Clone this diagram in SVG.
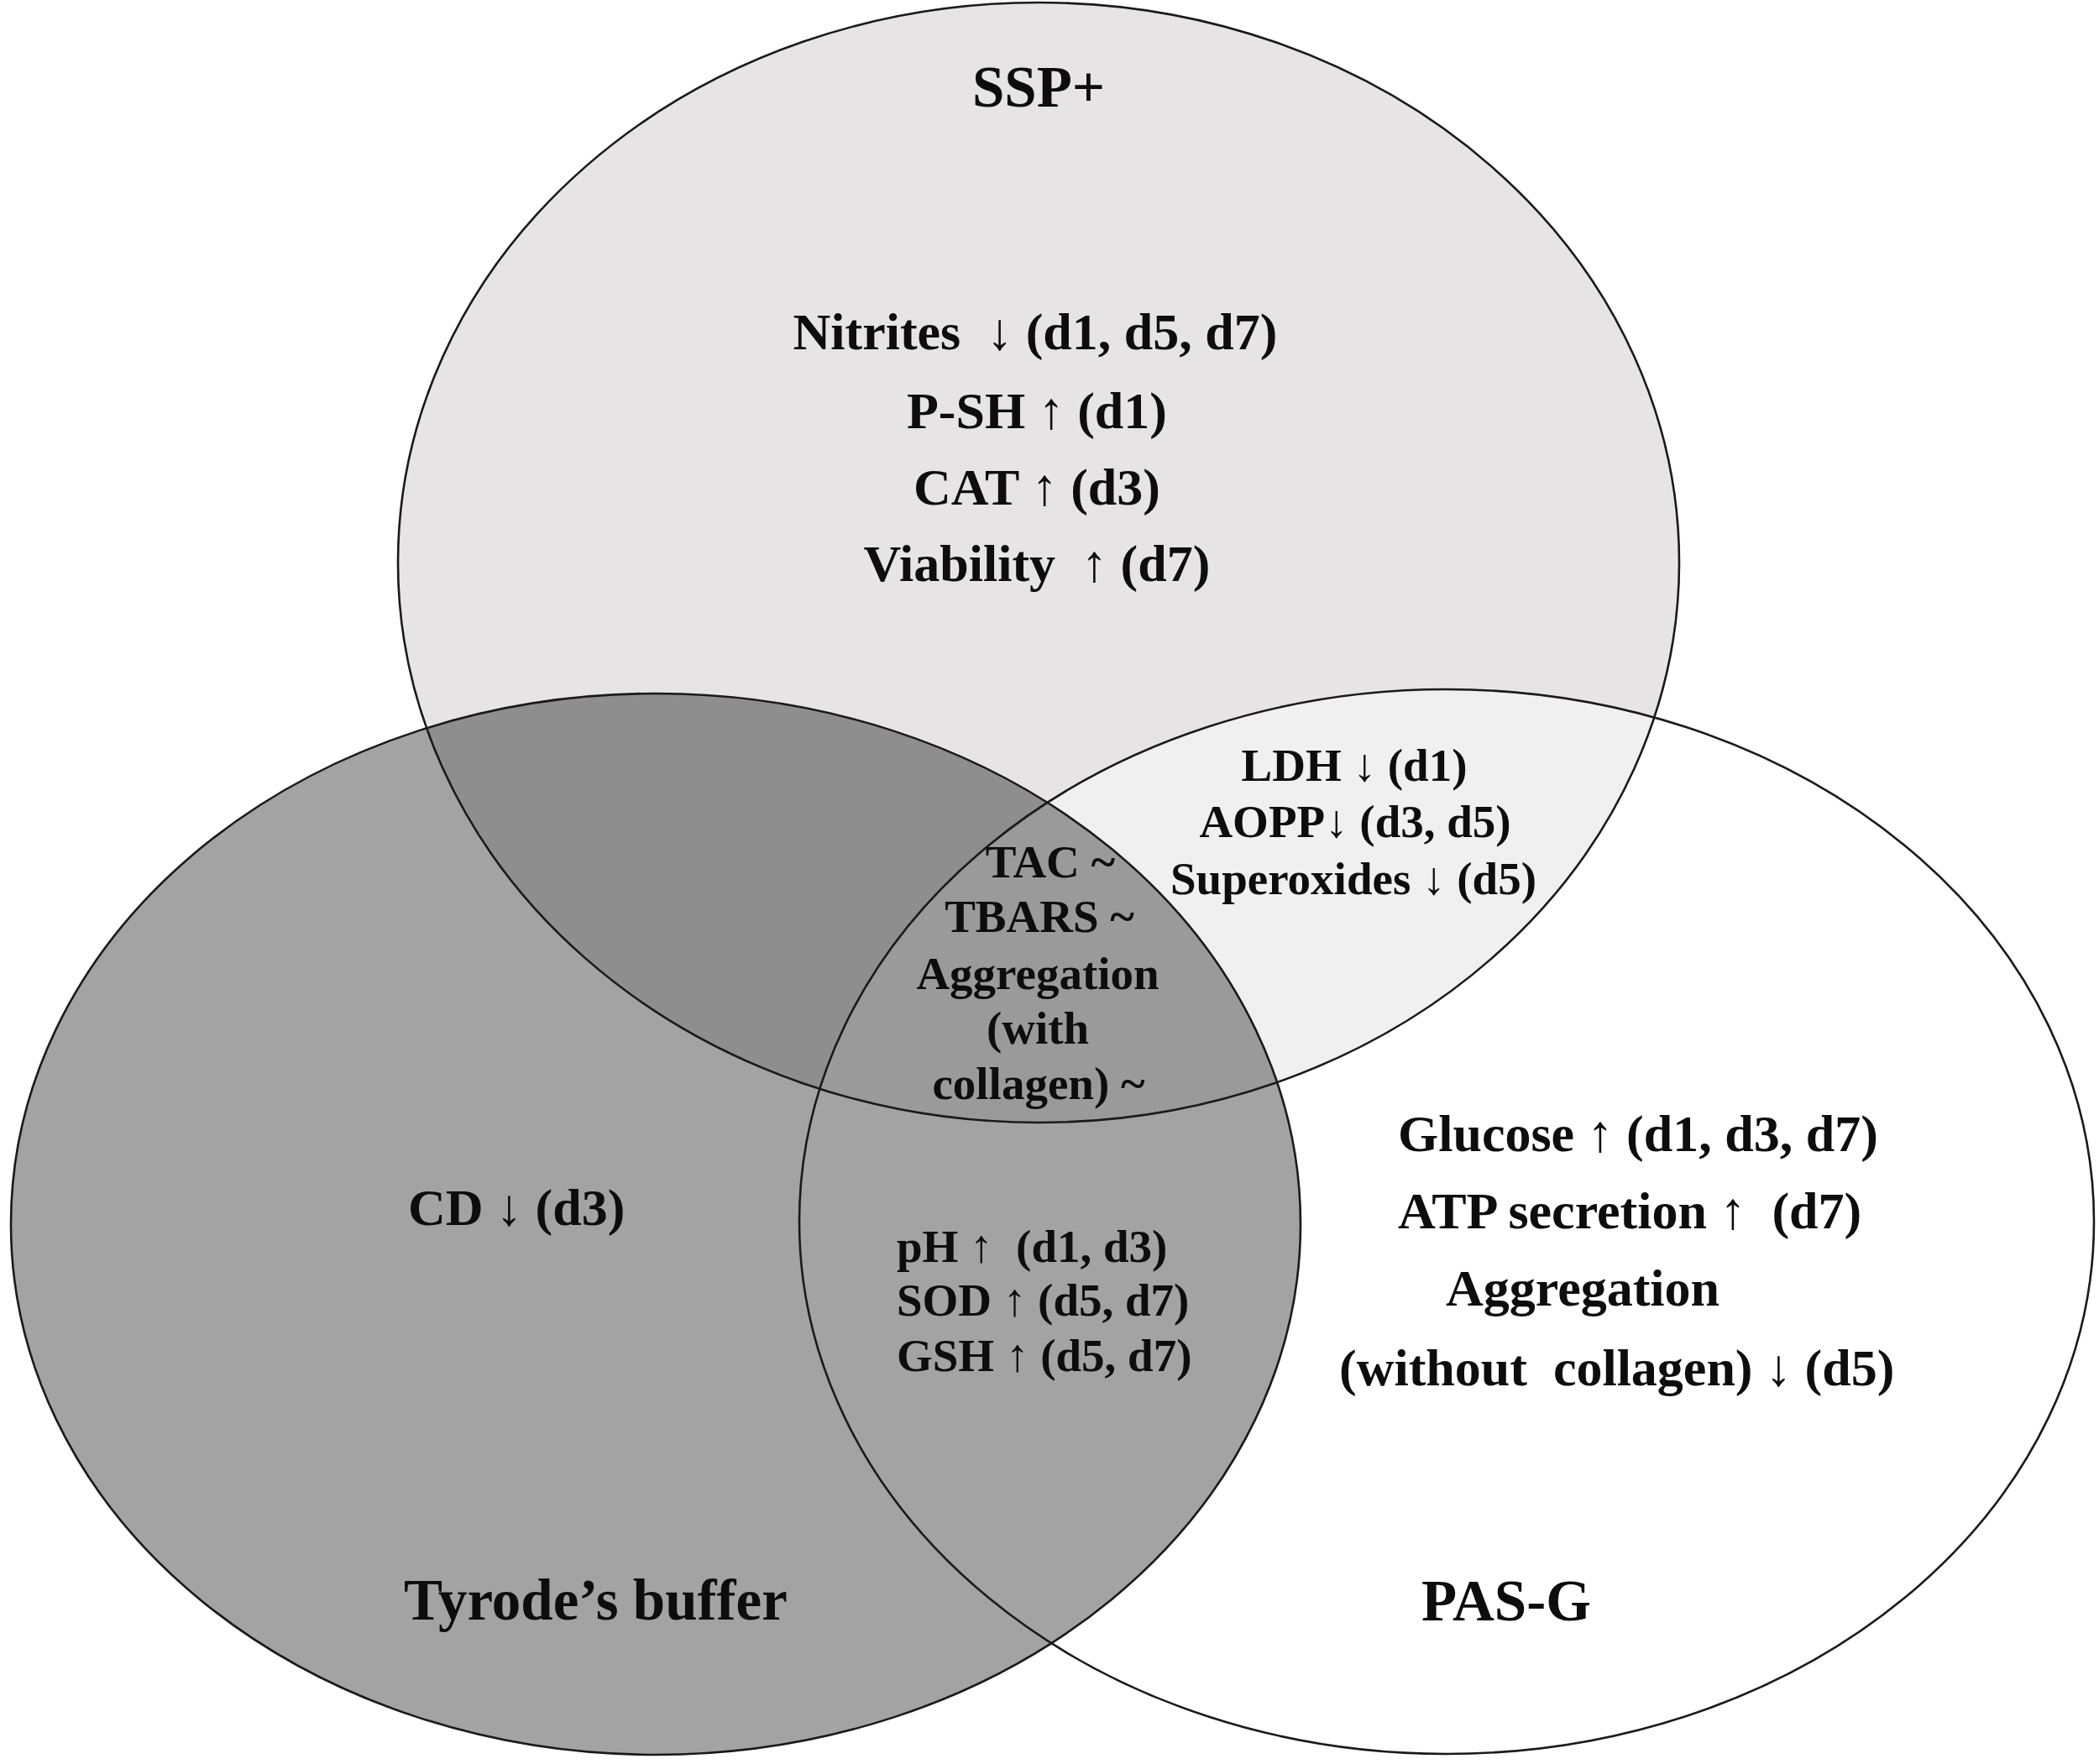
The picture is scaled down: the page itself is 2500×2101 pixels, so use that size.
<svg xmlns="http://www.w3.org/2000/svg" width="2500" height="2101" viewBox="0 0 2500 2101">
<style>
.t{font-family:"Liberation Serif","Times New Roman","DejaVu Serif",serif;font-weight:bold;fill:#0d0d0d;white-space:pre}
.title{font-size:69px}
.m{font-size:62px}
.s{font-size:55px}
.c{text-anchor:middle}
.outline{fill:none;stroke:#1a1a1a;stroke-width:2.6}
</style>
<defs>
<clipPath id="clipSSP"><ellipse cx="1237" cy="670" rx="763" ry="667"/></clipPath>
<clipPath id="clipPAS"><ellipse cx="1723" cy="1455" rx="771" ry="634"/></clipPath>
</defs>
<rect width="2500" height="2101" fill="#ffffff"/>
<g id="regions">
<ellipse cx="1237" cy="670" rx="763" ry="667" fill="#e6e4e4"/>
<g clip-path="url(#clipSSP)"><ellipse cx="1723" cy="1455" rx="771" ry="634" fill="#f0f0f0"/></g>
<ellipse cx="781" cy="1458" rx="768" ry="632" fill="#a4a3a4"/>
<g clip-path="url(#clipSSP)"><ellipse cx="781" cy="1458" rx="768" ry="632" fill="#8f8e8f"/></g>
<g clip-path="url(#clipSSP)"><g clip-path="url(#clipPAS)"><ellipse cx="781" cy="1458" rx="768" ry="632" fill="#9b9a9b"/></g></g>
</g>
<g id="ssp">
<ellipse class="outline" cx="1237" cy="670" rx="763" ry="667"/>
<text class="t title c" x="1237" y="127">SSP+</text>
<text class="t m c" x="1233" y="416" xml:space="preserve">Nitrites  ↓ (d1, d5, d7)</text>
<text class="t m c" x="1235" y="510">P-SH ↑ (d1)</text>
<text class="t m c" x="1235" y="601">CAT ↑ (d3)</text>
<text class="t m c" x="1235" y="692" xml:space="preserve">Viability  ↑ (d7)</text>
</g>
<g id="tyrode">
<ellipse class="outline" cx="781" cy="1458" rx="768" ry="632"/>
<text class="t title" x="481" y="1929">Tyrode’s buffer</text>
<text class="t m" x="486" y="1459">CD ↓ (d3)</text>
</g>
<g id="pasg">
<ellipse class="outline" cx="1723" cy="1455" rx="771" ry="634"/>
<text class="t title" x="1693" y="1930">PAS-G</text>
<text class="t m" x="1665" y="1371">Glucose ↑ (d1, d3, d7)</text>
<text class="t m" x="1665" y="1463" xml:space="preserve">ATP secretion ↑  (d7)</text>
<text class="t m" x="1722" y="1555">Aggregation</text>
<text class="t m" x="1595" y="1650" xml:space="preserve">(without  collagen) ↓ (d5)</text>
</g>
<g id="ssp-pasg">
<text class="t s c" x="1613" y="930">LDH ↓ (d1)</text>
<text class="t s c" x="1614" y="997">AOPP↓ (d3, d5)</text>
<text class="t s c" x="1612" y="1065">Superoxides ↓ (d5)</text>
</g>
<g id="all-three">
<text class="t s c" x="1251" y="1045">TAC ~</text>
<text class="t s c" x="1238" y="1110">TBARS ~</text>
<text class="t s c" x="1236" y="1178">Aggregation</text>
<text class="t s c" x="1236" y="1243">(with</text>
<text class="t s c" x="1237" y="1309">collagen) ~</text>
</g>
<g id="tyrode-pasg">
<text class="t s" x="1068" y="1503" xml:space="preserve">pH ↑  (d1, d3)</text>
<text class="t s" x="1068" y="1567">SOD ↑ (d5, d7)</text>
<text class="t s" x="1068" y="1633">GSH ↑ (d5, d7)</text>
</g>
<g id="connectors"/>
</svg>
